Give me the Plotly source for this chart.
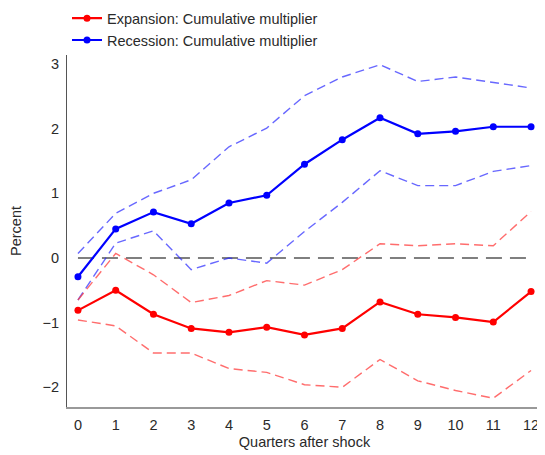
import plotly.graph_objects as go

quarters = list(range(13))

rec_mid = [-0.29, 0.45, 0.71, 0.53, 0.85, 0.97, 1.45, 1.83, 2.17, 1.92, 1.96, 2.03, 2.03]
rec_hi = [0.07, 0.69, 1.00, 1.21, 1.72, 2.01, 2.51, 2.80, 2.99, 2.73, 2.80, 2.72, 2.63]
rec_lo = [-0.65, 0.23, 0.42, -0.18, 0.00, -0.08, 0.41, 0.86, 1.35, 1.12, 1.12, 1.34, 1.43]

exp_mid = [-0.81, -0.50, -0.87, -1.09, -1.15, -1.07, -1.19, -1.09, -0.68, -0.87, -0.92, -0.99, -0.52]
exp_hi = [-0.65, 0.07, -0.26, -0.69, -0.58, -0.35, -0.42, -0.18, 0.22, 0.19, 0.22, 0.19, 0.72]
exp_lo = [-0.96, -1.05, -1.47, -1.47, -1.71, -1.77, -1.96, -2.00, -1.57, -1.90, -2.05, -2.17, -1.74]

zero_line = [0] * len(quarters)

RED = "#ff0000"
BLUE = "#0000ff"
RED_BAND = "rgba(255,60,60,0.75)"
BLUE_BAND = "rgba(40,40,255,0.7)"

fig = go.Figure()

fig.add_trace(go.Scatter(x=quarters, y=zero_line, mode="lines",
                         line=dict(color="#555555", width=1.3, dash="16px,8px"),
                         showlegend=False, hoverinfo="skip"))

for y in (rec_hi, rec_lo):
    fig.add_trace(go.Scatter(x=quarters, y=y, mode="lines",
                             line=dict(color=BLUE_BAND, width=1.4, dash="9px,5px"),
                             showlegend=False))
for y in (exp_hi, exp_lo):
    fig.add_trace(go.Scatter(x=quarters, y=y, mode="lines",
                             line=dict(color=RED_BAND, width=1.4, dash="9px,5px"),
                             showlegend=False))

fig.add_trace(go.Scatter(x=quarters, y=exp_mid, mode="lines+markers",
                         name="Expansion: Cumulative multiplier",
                         line=dict(color=RED, width=2.2),
                         marker=dict(color=RED, size=7)))
fig.add_trace(go.Scatter(x=quarters, y=rec_mid, mode="lines+markers",
                         name="Recession: Cumulative multiplier",
                         line=dict(color=BLUE, width=2.2),
                         marker=dict(color=BLUE, size=7)))

fig.update_layout(
    width=537, height=447,
    margin=dict(l=59, r=3, t=47, b=48, autoexpand=False),
    plot_bgcolor="white", paper_bgcolor="white",
    font=dict(family="Liberation Sans, Arial, sans-serif", size=14.5, color="#2a2a2a"),
    legend=dict(x=0, y=1.15, xanchor="left", yanchor="top",
                font=dict(size=14.5), tracegroupgap=0, traceorder="normal",
                bgcolor="rgba(0,0,0,0)"),
    xaxis=dict(range=[-0.29, 12.29], tickmode="array", tickvals=quarters,
               showgrid=False, zeroline=False, showline=True,
               linecolor="#999999", linewidth=1.5, ticks="", ticklabelstandoff=4,
               title=dict(text="Quarters after shock", standoff=5, font=dict(size=14.5))),
    yaxis=dict(range=[-2.305, 3.14], tickvals=[-2, -1, 0, 1, 2, 3],
               showgrid=False, zeroline=False, showline=True,
               linecolor="#555555", linewidth=1, ticks="", ticklabelstandoff=4,
               title=dict(text="Percent", standoff=17, font=dict(size=14.5))),
)

fig.write_html("out.html")
